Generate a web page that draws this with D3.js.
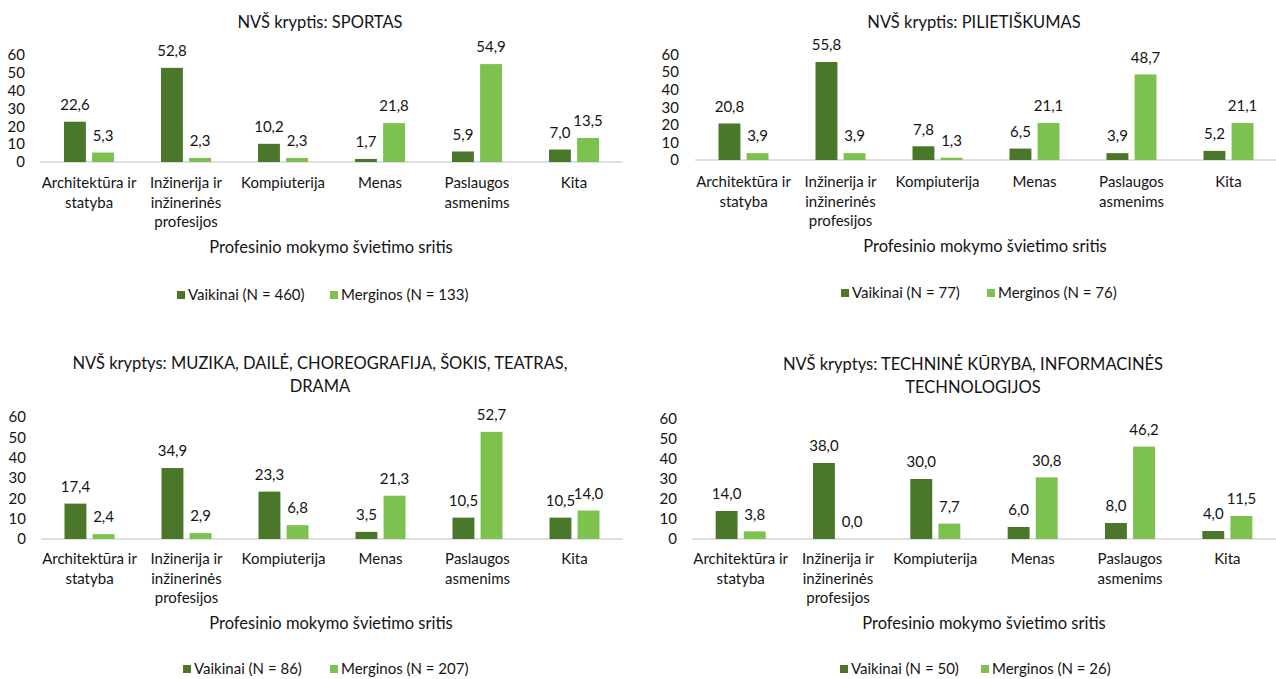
<!DOCTYPE html>
<html>
<head>
<meta charset="utf-8">
<script src="https://cdn.jsdelivr.net/npm/d3@7"></script>
<style>
  html, body { margin: 0; padding: 0; background: #ffffff; }
  svg text { font-family: Lato, "Open Sans", sans-serif; fill: #141414; }
</style>
</head>
<body>
<svg id="chart" width="1276" height="679"></svg>
<script>
// ---------- DATA ----------
const categories = ["Architektūra ir statyba", "Inžinerija ir inžinerinės profesijos", "Kompiuterija", "Menas", "Paslaugos asmenims", "Kita"];
const categoryLines = [["Architektūra ir", "statyba"], ["Inžinerija ir", "inžinerinės", "profesijos"], ["Kompiuterija"], ["Menas"], ["Paslaugos", "asmenims"], ["Kita"]];
const yTicks = [0, 10, 20, 30, 40, 50, 60];
const seriesNames = ["Vaikinai", "Merginos"];

const titleSportas = ["NVŠ kryptis: SPORTAS"];
const titlePilietiskumas = ["NVŠ kryptis: PILIETIŠKUMAS"];
const titleMuzika = ["NVŠ kryptys: MUZIKA, DAILĖ, CHOREOGRAFIJA, ŠOKIS, TEATRAS,", "DRAMA"];
const titleTechnine = ["NVŠ kryptys: TECHNINĖ KŪRYBA, INFORMACINĖS", "TECHNOLOGIJOS"];

const vaikinaiSportas = [22.6, 52.8, 10.2, 1.7, 5.9, 7.0];
const merginosSportas = [5.3, 2.3, 2.3, 21.8, 54.9, 13.5];
const vaikinaiPilietiskumas = [20.8, 55.8, 7.8, 6.5, 3.9, 5.2];
const merginosPilietiskumas = [3.9, 3.9, 1.3, 21.1, 48.7, 21.1];
const vaikinaiMuzika = [17.4, 34.9, 23.3, 3.5, 10.5, 10.5];
const merginosMuzika = [2.4, 2.9, 6.8, 21.3, 52.7, 14.0];
const vaikinaiTechnine = [14.0, 38.0, 30.0, 6.0, 8.0, 4.0];
const merginosTechnine = [3.8, 0.0, 7.7, 30.8, 46.2, 11.5];

const nSportas = [460, 133];
const nPilietiskumas = [77, 76];
const nMuzika = [86, 207];
const nTechnine = [50, 26];

const axisTitle = "Profesinio mokymo švietimo sritis";

// ---------- STYLE / LAYOUT ----------
const colors = ["#4a7729", "#7dc24f"];
const panels = [
  { title: titleSportas, v: vaikinaiSportas, m: merginosSportas, n: nSportas,
    titleX: 320, titleY: [22], yLabelRight: 25, baseline: 162, top: 55, x0: 40.5, x1: 622.5,
    catY: 183, axisTitleX: 331, axisTitleY: 247, legendY: 295, legendX: [177, 330] },
  { title: titlePilietiskumas, v: vaikinaiPilietiskumas, m: merginosPilietiskumas, n: nPilietiskumas,
    titleX: 974, titleY: [22], yLabelRight: 679, baseline: 160, top: 54.6, x0: 695, x1: 1277,
    catY: 182, axisTitleX: 985, axisTitleY: 246, legendY: 293, legendX: [841, 987] },
  { title: titleMuzika, v: vaikinaiMuzika, m: merginosMuzika, n: nMuzika,
    titleX: 320, titleY: [363, 386], yLabelRight: 26, baseline: 539, top: 417, x0: 41, x1: 623,
    catY: 559, axisTitleX: 331, axisTitleY: 623, legendY: 669, legendX: [183, 330] },
  { title: titleTechnine, v: vaikinaiTechnine, m: merginosTechnine, n: nTechnine,
    titleX: 973, titleY: [364, 387], yLabelRight: 677, baseline: 539, top: 419, x0: 692, x1: 1276,
    catY: 559, axisTitleX: 984, axisTitleY: 623, legendY: 669, legendX: [840, 981] }
];

const fmt = v => d3.format(".1f")(v).replace(".", ",");
const svg = d3.select("#chart");

panels.forEach(p => {
  const g = svg.append("g");
  const x = d3.scaleBand().domain(categories).range([p.x0, p.x1]);
  const xs = d3.scaleBand().domain(seriesNames).range([-25, 25]).paddingInner(0.22).paddingOuter(0);
  const y = d3.scaleLinear().domain([0, 60]).range([p.baseline, p.top]);

  // title
  g.append("text").attr("text-anchor", "middle").style("font-size", "16.5px")
    .selectAll("tspan").data(p.title).join("tspan")
    .attr("x", p.titleX).attr("y", (d, i) => p.titleY[i]).attr("dy", "0.35em").text(d => d);

  // y axis
  const ya = g.append("g").attr("transform", `translate(${p.yLabelRight},0)`)
    .call(d3.axisLeft(y).tickValues(yTicks).tickSize(0).tickPadding(0).tickFormat(d3.format("d")));
  ya.select(".domain").remove();
  ya.selectAll("text").style("font-size", "15px").style("font-family", "Lato, sans-serif").attr("fill", "#141414");

  // baseline
  g.append("line").attr("x1", x.range()[0]).attr("x2", x.range()[1])
    .attr("y1", p.baseline).attr("y2", p.baseline)
    .attr("stroke", "#d4d4d4").attr("stroke-width", 1.5);

  // bars
  const rows = categories.map((c, i) => ({ c, vals: [p.v[i], p.m[i]] }));
  const grp = g.selectAll("g.cat").data(rows).join("g").attr("class", "cat")
    .attr("transform", d => `translate(${x(d.c) + x.bandwidth() / 2},0)`);
  grp.selectAll("rect").data(d => d.vals.map((v, k) => ({ v, s: seriesNames[k], k }))).join("rect")
    .attr("x", d => xs(d.s)).attr("width", xs.bandwidth())
    .attr("y", d => y(d.v)).attr("height", d => p.baseline - y(d.v))
    .attr("fill", d => colors[d.k]);
  grp.selectAll("text.val").data(d => d.vals.map((v, k) => ({ v, s: seriesNames[k], k }))).join("text")
    .attr("class", "val").attr("text-anchor", "middle").style("font-size", "15px")
    .attr("x", d => xs(d.s) + xs.bandwidth() / 2).attr("y", d => y(d.v) - 17).attr("dy", "0.35em")
    .text(d => fmt(d.v));

  // category labels
  g.selectAll("text.cat").data(categories).join("text").attr("class", "cat")
    .attr("text-anchor", "middle").style("font-size", "15px")
    .each(function (c, i) {
      d3.select(this).selectAll("tspan").data(categoryLines[i]).join("tspan")
        .attr("x", x(c) + x.bandwidth() / 2).attr("y", (d, j) => p.catY + j * 19.3)
        .attr("dy", "0.35em").text(d => d);
    });

  // axis title
  g.append("text").attr("text-anchor", "middle").style("font-size", "16.5px")
    .attr("x", p.axisTitleX).attr("y", p.axisTitleY).attr("dy", "0.35em").text(axisTitle);

  // legend
  seriesNames.forEach((s, k) => {
    g.append("rect").attr("x", p.legendX[k]).attr("y", p.legendY - 4).attr("width", 8).attr("height", 8)
      .attr("fill", colors[k]);
    g.append("text").attr("x", p.legendX[k] + 11).attr("y", p.legendY).attr("dy", "0.35em")
      .style("font-size", "15px").text(`${s} (N = ${p.n[k]})`);
  });
});
</script>
</body>
</html>
